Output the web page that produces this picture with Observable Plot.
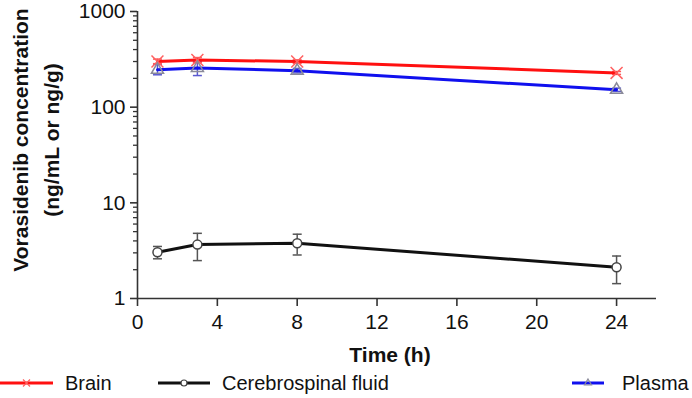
<!DOCTYPE html>
<html>
<head>
<meta charset="utf-8">
<script src="https://cdn.jsdelivr.net/npm/d3@7"></script>
<script src="https://cdn.jsdelivr.net/npm/@observablehq/plot@0.6"></script>
<style>
  html, body { margin: 0; padding: 0; background: #fff; }
  body { width: 692px; height: 398px; overflow: hidden; font-family: "Liberation Sans", Arial, sans-serif; }
  #chart svg { display: block; }
  #legend { position: relative; width: 692px; height: 28px; font-family: "Liberation Sans", Arial, sans-serif; font-size: 20px; color: #111; }
  #legend svg { position: absolute; top: 0; }
  #legend span { position: absolute; top: 2px; white-space: nowrap; }
</style>
</head>
<body>
<div id="chart"></div>
<div id="legend"></div>
<script>
// ---- data ----
const times = [1, 3, 8, 24];
const brainMean = [300, 311, 300, 228];
const brainLo   = [285, 292, 288, 220];
const brainHi   = [318, 330, 312, 236];
const csfMean = [3.04, 3.66, 3.78, 2.12];
const csfLo   = [2.60, 2.49, 2.85, 1.43];
const csfHi   = [3.50, 4.80, 4.70, 2.78];
const plasmaMean = [246, 257, 240, 152];
const plasmaLo   = [218, 214, 228, 146];
const plasmaHi   = [280, 298, 254, 158];
const xTicks = [0, 4, 8, 12, 16, 20, 24];
const yTicks = [1, 10, 100, 1000];
const yMinor = [2,3,4,5,6,7,8,9,20,30,40,50,60,70,80,90,200,300,400,500,600,700,800,900];
const seriesNames = ["Brain", "Cerebrospinal fluid", "Plasma"];

const rows = (name, m, lo, hi) => times.map((t, i) => ({series: name, t, v: m[i], lo: lo[i], hi: hi[i]}));
const brain = rows("Brain", brainMean, brainLo, brainHi);
const csf = rows("Cerebrospinal fluid", csfMean, csfLo, csfHi);
const plasma = rows("Plasma", plasmaMean, plasmaLo, plasmaHi);

const capSymbol = {draw(ctx, size) { const w = 4.5; ctx.moveTo(-w, 0); ctx.lineTo(w, 0); }};

function errorMarks(data, color) {
  return [
    Plot.ruleX(data, {x: "t", y1: "lo", y2: "hi", stroke: color, strokeWidth: 1.5}),
    Plot.dot(data, {x: "t", y: "lo", symbol: capSymbol, stroke: color, strokeWidth: 1.5, r: 4}),
    Plot.dot(data, {x: "t", y: "hi", symbol: capSymbol, stroke: color, strokeWidth: 1.5, r: 4})
  ];
}

const axisColor = "#333";
const chart = Plot.plot({
  width: 692,
  height: 370,
  marginLeft: 137,
  marginRight: 36,
  marginTop: 11,
  marginBottom: 72,
  style: {fontFamily: "Liberation Sans, Arial, sans-serif", fontSize: "21px", color: "#111", background: "#fff"},
  x: {domain: [0, 26]},
  y: {type: "log", domain: [1, 1000]},
  marks: [
    Plot.ruleX([0], {y1: 1, y2: 1000, stroke: axisColor, strokeWidth: 1.6}),
    Plot.ruleY([1], {x1: 0, x2: 26, stroke: axisColor, strokeWidth: 1.6}),
    Plot.axisY({ticks: yTicks, tickSize: 7, tickPadding: 5, tickFormat: d => String(d), stroke: axisColor, strokeWidth: 1.6, label: null, fontSize: 21}),
    Plot.axisY({ticks: yMinor, tickSize: 4, tickFormat: () => "", stroke: axisColor, strokeWidth: 1.3, label: null}),
    Plot.axisX({ticks: xTicks, tickSize: 8, tickPadding: 8, tickFormat: d => String(d), stroke: axisColor, strokeWidth: 1.6, label: null, fontSize: 21}),
    Plot.text(["Time (h)"], {frameAnchor: "bottom", text: d => d, dy: 63, dx: -7, fontWeight: "bold", fontSize: 21, lineAnchor: "bottom"}),
    Plot.text(["Vorasidenib concentration\n(ng/mL or ng/g)"], {frameAnchor: "left", text: d => d, rotate: -90, dx: -132, dy: -15, fontWeight: "bold", fontSize: 21, lineAnchor: "top", lineHeight: 1.5, textAnchor: "middle"}),
    ...errorMarks(plasma, "#5a5ad0"),
    ...errorMarks(brain, "#ff5a5a"),
    ...errorMarks(csf, "#555"),
    Plot.line(brain, {x: "t", y: "v", stroke: "#ff1010", strokeWidth: 3}),
    Plot.line(plasma, {x: "t", y: "v", stroke: "#1010ee", strokeWidth: 3}),
    Plot.line(csf, {x: "t", y: "v", stroke: "#111", strokeWidth: 3}),
    Plot.dot(brain, {x: "t", y: "v", symbol: "times", stroke: "#ff6060", strokeWidth: 1.5, r: 5.5}),
    Plot.dot(plasma, {x: "t", y: "v", symbol: "triangle", stroke: "#8a8a9a", fill: "none", strokeWidth: 1.5, r: 4.5}),
    Plot.dot(csf, {x: "t", y: "v", symbol: "circle", stroke: "#444", fill: "white", strokeWidth: 1.5, r: 4.5})
  ]
});
document.getElementById("chart").appendChild(chart);

// ---- legend (HTML below the SVG) ----
const legendItems = [
  {name: seriesNames[0], color: "#ff1010", mark: "#ff6060", symbol: "x", lx: 0, lw: 53, tx: 65},
  {name: seriesNames[1], color: "#111", mark: "#444", symbol: "o", lx: 158, lw: 52, tx: 222},
  {name: seriesNames[2], color: "#1010ee", mark: "#8a8a9a", symbol: "t", lx: 572, lw: 32, tx: 622}
];
const legend = document.getElementById("legend");
for (const it of legendItems) {
  const ns = "http://www.w3.org/2000/svg";
  const s = document.createElementNS(ns, "svg");
  s.setAttribute("width", it.lw); s.setAttribute("height", 28);
  s.style.left = it.lx + "px";
  const cx = it.lw / 2, cy = 13;
  let inner = `<line x1="0" x2="${it.lw}" y1="${cy}" y2="${cy}" stroke="${it.color}" stroke-width="3"/>`;
  if (it.symbol === "x") inner += `<path d="M${cx-3.5},${cy-3.5}L${cx+3.5},${cy+3.5}M${cx-3.5},${cy+3.5}L${cx+3.5},${cy-3.5}" stroke="${it.mark}" stroke-width="1.2"/>`;
  if (it.symbol === "o") inner += `<circle cx="${cx}" cy="${cy}" r="3" fill="white" stroke="${it.mark}" stroke-width="1.2"/>`;
  if (it.symbol === "t") inner += `<path d="M${cx},${cy-4}L${cx+3.5},${cy+2}L${cx-3.5},${cy+2}Z" fill="none" stroke="${it.mark}" stroke-width="1.2"/>`;
  s.innerHTML = inner;
  legend.appendChild(s);
  const sp = document.createElement("span");
  sp.textContent = it.name;
  sp.style.left = it.tx + "px";
  legend.appendChild(sp);
}
</script>
</body>
</html>
